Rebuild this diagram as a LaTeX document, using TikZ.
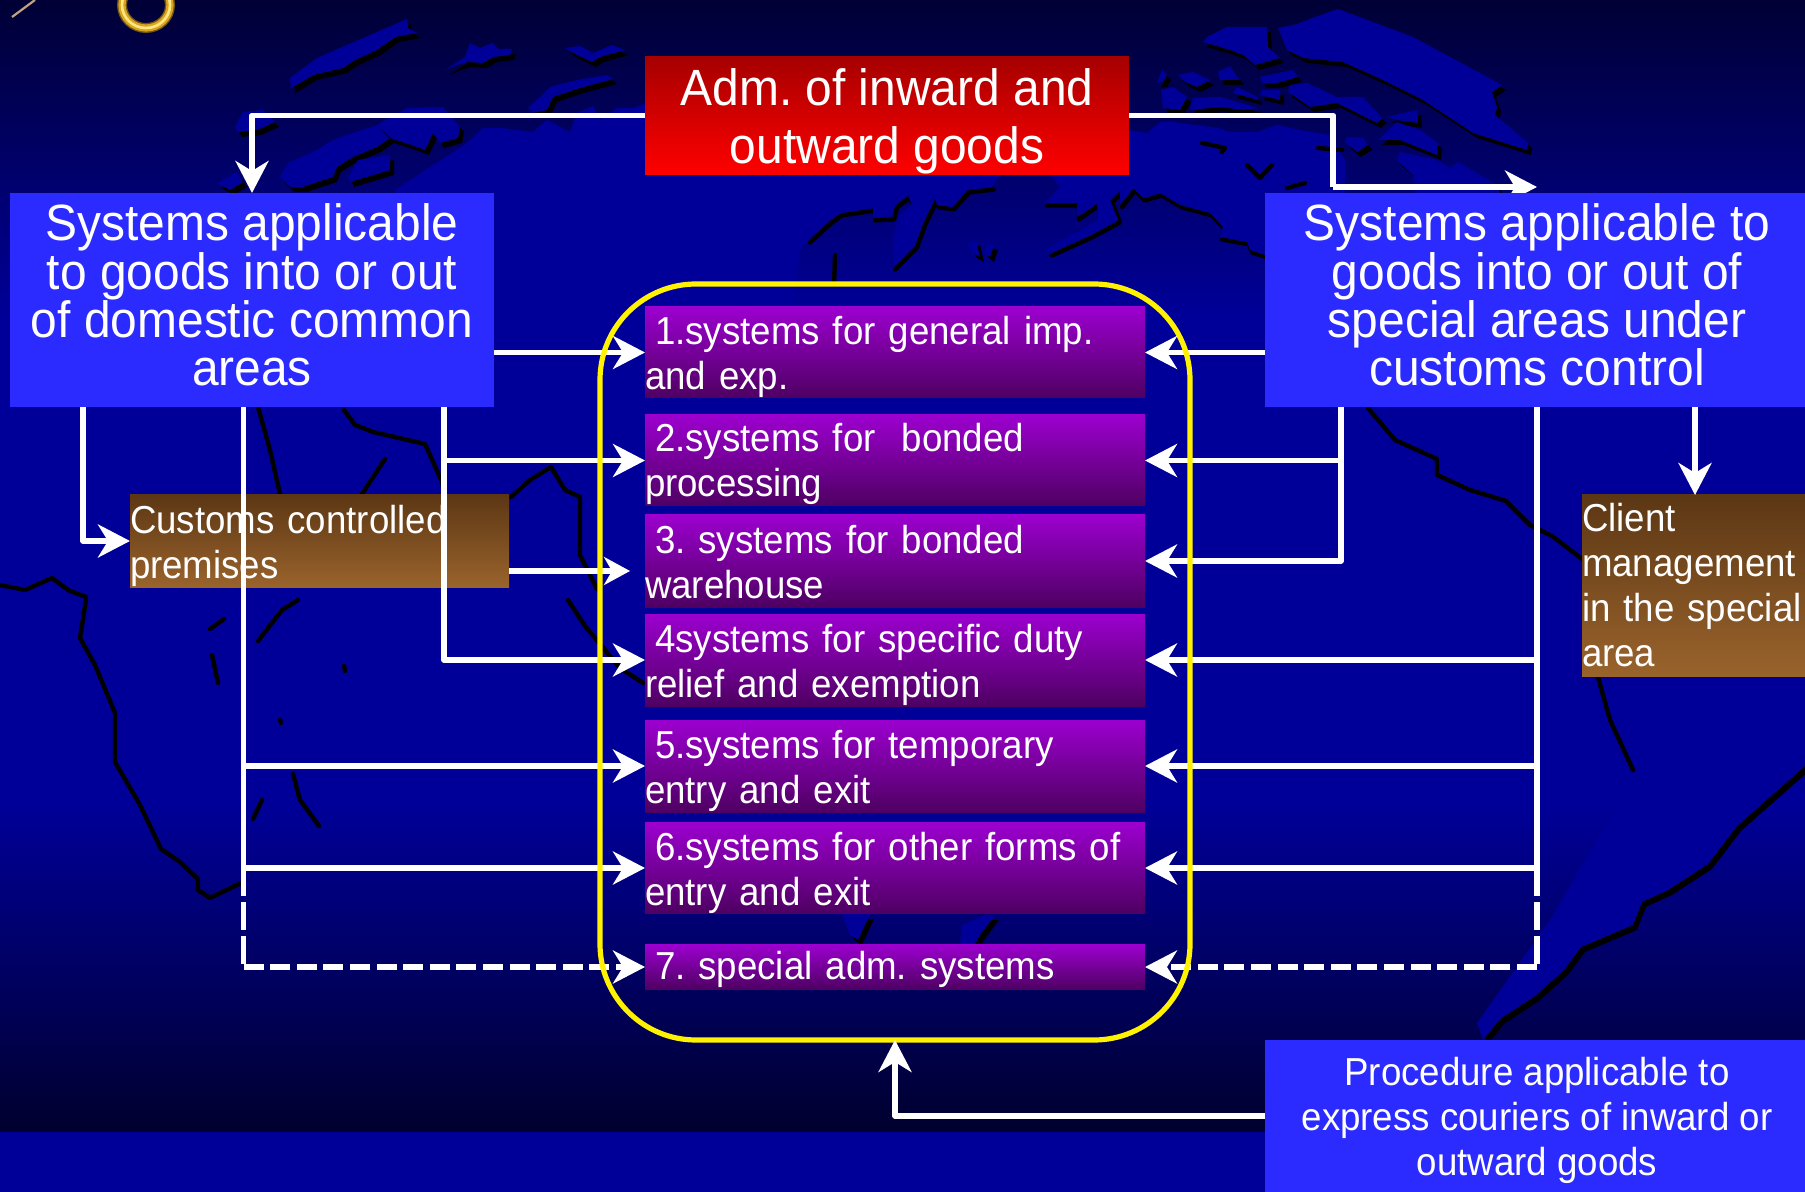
\documentclass[tikz,border=0pt]{standalone}
\usepackage{fontspec}
\setmainfont[FakeStretch=0.94]{Liberation Sans}
\usetikzlibrary{arrows.meta}
\definecolor{landblue}{HTML}{000099}
\definecolor{boxblue}{HTML}{2B2BFF}
\definecolor{violet1}{HTML}{9C00CF}
\definecolor{violet2}{HTML}{4E0062}
\definecolor{brown1}{HTML}{5C3714}
\definecolor{brown2}{HTML}{9A632C}
\definecolor{ringdark}{HTML}{6E5518}
\definecolor{ringgold}{HTML}{D9A520}
\definecolor{ringpale}{HTML}{FFE680}
\newcommand{\landmass}[1]{\fill[black,xshift=2pt,yshift=-2.5pt] #1 -- cycle; \fill[landblue] #1 -- cycle;}
\newcommand{\tstrut}[1]{\rule{0pt}{#1pt}}
\newcommand{\bstrut}[1]{\rule[-#1pt]{0pt}{#1pt}}
\tikzset{
  base/.style={inner sep=0pt,outer sep=0pt,text=white},
  bluebox/.style={base,fill=boxblue,align=center},
  bigtext/.style={font=\fontsize{25.5pt}{24.15pt}\selectfont\frenchspacing},
  midtext/.style={font=\fontsize{19.5pt}{22.5pt}\selectfont\frenchspacing},
  redbox/.style={base,top color=red!65!black,bottom color=red,align=center,font=\fontsize{25.5pt}{29.3pt}\selectfont\frenchspacing},
  sysbox/.style={base,top color=violet1,bottom color=violet2,minimum width=250pt,text width=250pt,align=left,midtext},
  brownbox/.style={base,top color=brown1,bottom color=brown2,align=left,midtext},
  conn/.style={draw=white,line width=2.9pt,line join=round},
  arr/.style={conn,-{Stealth[length=16pt,width=16.5pt,inset=5pt]}},
  smallarr/.style={conn,-{Stealth[length=13pt,width=14pt,inset=4pt]}},
  dashh/.style={conn,dash pattern=on 10pt off 3.3pt},
  dashv/.style={conn,dash pattern=on 14pt off 3pt},
  coast/.style={draw=black,line width=2.2pt,line join=round,line cap=round},
  shore/.style={draw=black,line width=2.2pt,line join=round,line cap=round,xshift=1pt,yshift=-1.2pt},
}
\begin{document}
\begin{tikzpicture}[x=0.5pt,y=-0.5pt]
\useasboundingbox (0,0) rectangle (1805,1192);
\begin{scope}
\clip (0,0) rectangle (1805,1192);
% background
\shade[top color=landblue!35!black,bottom color=landblue] (0,0) rectangle (1805,320);
\fill[landblue] (0,319) rectangle (1805,801);
\shade[top color=landblue,bottom color=landblue!30!black] (0,800) rectangle (1805,1133);
\fill[landblue] (0,1132) rectangle (1805,1192);
% ring and thin line in the corner
\draw[line width=5pt,color=ringdark] (146,5) ellipse [x radius=24,y radius=23];
\draw[line width=3.6pt,color=ringgold] (146,5) ellipse [x radius=24,y radius=23];
\draw[line width=1.3pt,color=ringpale] (146,5) ellipse [x radius=24,y radius=23];
\draw[line width=1.1pt,color=brown2!60!white] (12,17) -- (35,0);
% world map: north edge
\landmass{(290,78) -- (317,58) -- (407,19) -- (408,28) -- (417,33) -- (395,37) -- (377,50) -- (355,60) -- (343,68) -- (313,75) -- (300,83) -- (291,88)}
\landmass{(445,70) -- (465,57) -- (470,43) -- (480,48) -- (493,43) -- (498,49) -- (512,49) -- (510,55) -- (493,57) -- (483,63) -- (467,62) -- (457,65)}
\landmass{(565,48) -- (580,46) -- (593,53) -- (612,45) -- (625,50) -- (600,57) -- (592,62) -- (577,55)}
\landmass{(528,108) -- (540,97) -- (550,87) -- (577,80) -- (607,75) -- (613,79) -- (580,88) -- (553,97) -- (547,110) -- (533,113)}
\landmass{(235,127) -- (243,112) -- (263,110) -- (275,122) -- (257,130) -- (238,132)}
\landmass{(280,177) -- (288,163) -- (317,150) -- (333,140) -- (347,135) -- (377,125) -- (390,138) -- (377,147) -- (353,157) -- (337,167) -- (333,177) -- (303,187) -- (290,187)}
\landmass{(348,178) -- (358,160) -- (390,155) -- (390,170) -- (350,182)}
\landmass{(377,125) -- (407,108) -- (443,107) -- (460,127) -- (458,138) -- (440,143) -- (433,133) -- (425,150) -- (417,147) -- (390,138)}
\landmass{(217,183) -- (237,172) -- (243,182) -- (230,190)}
\landmass{(1278,28) -- (1297,24) -- (1315,17) -- (1338,9) -- (1413,37) -- (1502,85) -- (1492,92) -- (1497,107) -- (1495,115) -- (1528,143) -- (1527,150) -- (1473,133) -- (1423,100) -- (1383,80) -- (1343,62) -- (1303,58) -- (1287,50)}
\landmass{(1207,37) -- (1227,27) -- (1267,27) -- (1268,47) -- (1280,58) -- (1255,65) -- (1243,55) -- (1230,50) -- (1203,42)}
\landmass{(1260,77) -- (1293,70) -- (1298,77) -- (1277,83) -- (1262,83)}
\landmass{(1218,72) -- (1230,66) -- (1240,80) -- (1220,80)}
\landmass{(1178,75) -- (1193,72) -- (1210,80) -- (1197,87) -- (1185,82)}
\landmass{(1162,70) -- (1167,75) -- (1163,82) -- (1157,83)}
\landmass{(1161,90) -- (1173,87) -- (1187,97) -- (1180,110) -- (1163,108)}
\landmass{(1193,98) -- (1220,97) -- (1258,108) -- (1243,110) -- (1220,107) -- (1190,110)}
\landmass{(1237,87) -- (1258,97) -- (1258,100) -- (1233,93)}
\landmass{(1262,90) -- (1280,90) -- (1280,100) -- (1260,95)}
\landmass{(1290,85) -- (1307,83) -- (1337,97) -- (1363,97) -- (1382,118) -- (1377,123) -- (1337,103) -- (1310,107) -- (1288,92)}
\landmass{(1387,117) -- (1417,110) -- (1418,123) -- (1397,120)}
\landmass{(1378,140) -- (1397,122) -- (1420,130) -- (1438,143) -- (1437,155) -- (1400,140)}
\landmass{(1347,137) -- (1363,138) -- (1368,145) -- (1357,152) -- (1345,142)}
\landmass{(1400,152) -- (1437,160) -- (1450,168) -- (1458,162) -- (1497,185) -- (1500,193) -- (1415,193) -- (1413,175) -- (1397,160)}
\landmass{(968,243) -- (976,240) -- (980,257) -- (972,252)}
\landmass{(988,243) -- (994,245) -- (990,257) -- (984,252)}
% main northern coast
\draw[shore] (1265,255) -- (1250,250) -- (1247,242) -- (1220,237) -- (1223,227) -- (1210,213) -- (1180,205) -- (1160,193) -- (1143,198) -- (1133,188) -- (1120,205) -- (1120,190) -- (1110,200) -- (1118,220) -- (1090,235) -- (1050,253);
\draw[shore] (1098,220) -- (1097,203) -- (1077,217) -- (1077,203) -- (1045,203);
\draw[shore] (992,187) -- (967,190) -- (952,207) -- (937,205) -- (935,198) -- (923,223) -- (915,245) -- (893,267);
\draw[shore] (925,190) -- (913,208) -- (908,195) -- (895,205) -- (892,217) -- (873,218) -- (873,208) -- (840,213) -- (830,220) -- (808,240);
\fill[landblue] (467,143) -- (483,128) -- (502,128) -- (533,132) -- (547,120) -- (570,132) -- (577,113) -- (593,106) -- (600,120) -- (617,108) -- (633,108) -- (647,103) -- (660,120) -- (1129,130) -- (1147,133) -- (1160,122) -- (1173,122) -- (1218,128) -- (1230,132) -- (1257,132) -- (1277,125) -- (1300,130) -- (1330,135) -- (1345,160) -- (1345,193) -- (1265,193) -- (1265,255) -- (1250,250) -- (1247,242) -- (1220,237) -- (1223,227) -- (1210,213) -- (1180,205) -- (1160,193) -- (1143,198) -- (1133,188) -- (1120,205) -- (1120,190) -- (1110,200) -- (1118,220) -- (1090,235) -- (1050,253) -- (1045,250) -- (1090,225) -- (1098,220) -- (1097,203) -- (1077,217) -- (1077,203) -- (1045,203) -- (1060,187) -- (1050,174) -- (1000,174) -- (992,187) -- (967,190) -- (952,207) -- (937,205) -- (935,198) -- (923,223) -- (915,245) -- (893,267) -- (893,237) -- (900,215) -- (925,190) -- (913,208) -- (908,195) -- (895,205) -- (892,217) -- (873,218) -- (873,208) -- (840,213) -- (830,220) -- (808,240) -- (800,250) -- (790,320) -- (450,320) -- (395,190) -- cycle;
\draw[coast] (1202,143) -- (1225,148) -- (1222,152);
\draw[coast] (1247,165) -- (1260,178) -- (1272,165);
\draw[coast] (1287,188) -- (1305,183);
\draw[coast] (1318,148) -- (1342,150);
\draw[coast] (835,255) -- (834,285);
% coast lines lower on the map
\draw[coast] (1367,407) -- (1395,440) -- (1437,459) -- (1437,475) -- (1470,490) -- (1506,501) -- (1530,525) -- (1552,536) -- (1590,565);
\draw[coast] (1598,677) -- (1610,720) -- (1633,770);
\draw[coast] (344,410) -- (355,425) -- (373,432) -- (425,444) -- (442,482) -- (446,500);
\draw[coast] (385,459) -- (362,494);
\draw[coast] (258,407) -- (270,450) -- (280,494);
\draw[coast] (511,497) -- (530,480) -- (551,467) -- (565,490) -- (580,497) -- (580,555) -- (597,589);
\draw[coast] (568,600) -- (585,626) -- (620,668) -- (643,683);
\draw[coast] (0,585) -- (25,590) -- (52,578) -- (68,590) -- (86,597);
\draw[coast] (86,600) -- (80,638) -- (95,665) -- (115,713) -- (115,762) -- (140,805) -- (161,849) -- (180,862) -- (198,879) -- (198,890) -- (210,898) -- (241,883);
\draw[coast] (210,629) -- (224,619);
\draw[coast] (212,655) -- (218,683);
\draw[coast] (258,641) -- (282,610) -- (298,600);
\draw[coast] (344,666) -- (345,671);
\draw[coast] (280,720) -- (281,723);
\draw[coast] (293,774) -- (300,800) -- (319,826);
\draw[coast] (253,819) -- (262,800);
% small lands between the lower boxes
\landmass{(842,914) -- (870,914) -- (858,940) -- (850,935)}
\landmass{(960,944) -- (962,925) -- (985,915) -- (995,915) -- (980,935) -- (975,944)}
% southern land with its coast
\landmass{(1483,1040) -- (1477,1023) -- (1552,917) -- (1620,800) -- (1805,745) -- (1805,766) -- (1737,826) -- (1708,864) -- (1668,890) -- (1642,902) -- (1633,925) -- (1581,947) -- (1564,970) -- (1535,996) -- (1500,1019)}
\end{scope}
% anchors used by the connectors
\coordinate (rbend) at (1333,187);
\coordinate (rtip) at (1537,187);
\coordinate (la) at (83,407);
\coordinate (lc) at (243.5,407);
\coordinate (lbr) at (444,407);
\coordinate (ldash) at (243.5,868);
\coordinate (ldashend) at (243.5,967);
\coordinate (blstart) at (509,571);
\coordinate (bltip) at (630,571);
\coordinate (rb2) at (1341,407);
\coordinate (rc) at (1537,407);
\coordinate (rd) at (1695,407);
\coordinate (rdash) at (1537,868);
\coordinate (rdashend) at (1537,967);
% this arrow is half hidden by the box under it
\draw[arr] (rbend) -- (rtip);
% boxes
\node[redbox,minimum width=242pt,minimum height=58.5pt] (red) at (887,115.5) {\tstrut{24.4}Adm. of inward and\\outward goods};
\node[bluebox,bigtext,minimum width=242pt,minimum height=107pt] (lb) at (252,300) {Systems applicable\\to goods into or out\\of domestic common\\areas\bstrut{5.2}};
\node[bluebox,bigtext,minimum width=272pt,minimum height=107pt] (rb) at (1537,300) {Systems applicable to\\goods into or out of\\special areas under\\customs control\bstrut{5.2}};
\node[sysbox,minimum height=45.5pt] (p1) at (895,352.5) {\hspace*{5pt}\tstrut{18.6}1.systems for general imp.\\and exp.};
\node[sysbox,minimum height=45.5pt] (p2) at (895,460.5) {\hspace*{5pt}\tstrut{17.7}2.systems for\ \ bonded\\processing};
\node[sysbox,minimum height=46pt] (p3) at (895,561) {\hspace*{5pt}\tstrut{15.4}3. systems for bonded\\warehouse};
\node[sysbox,minimum height=46pt] (p4) at (895,660) {\hspace*{5pt}\tstrut{18.6}4systems for specific duty\\relief and exemption};
\node[sysbox,minimum height=46pt] (p5) at (895,766) {\hspace*{5pt}\tstrut{18.6}5.systems for temporary\\entry and exit};
\node[sysbox,minimum height=45.5pt] (p6) at (895,868) {\hspace*{5pt}\tstrut{18.6}6.systems for other forms of\\entry and exit};
\node[sysbox,minimum height=22.5pt] (p7) at (895,967) {\hspace*{5pt}\tstrut{16.5}7. special adm. systems};
\node[brownbox,minimum width=189.5pt,minimum height=46pt,text width=189.5pt] (bl) at (319.5,541) {\tstrut{18.8}Customs controlled\\premises};
\node[brownbox,minimum width=111.5pt,minimum height=90.5pt,text width=111.5pt] (br) at (1693.5,585.5) {Client\\management\\in the special\\area};
\node[bluebox,midtext,minimum width=272pt,minimum height=76pt] (bb) at (1537,1116) {\tstrut{18.8}Procedure applicable to\\express couriers of inward or\\outward goods};
% connectors
\draw[arr] (red.west) -| (lb.north);
\draw[conn] (red.east) -| (rbend);
\draw[arr] (lb.east |- p1.west) -- (p1.west);
\draw[arr] (rb.west |- p1.east) -- (p1.east);
\draw[arr] (la) |- (bl.west);
\draw[conn] (lc) -- (ldash);
\draw[arr] (lc |- p5.west) -- (p5.west);
\draw[arr] (ldash) -- (p6.west);
\draw[dashv] (ldash) -- (ldashend);
\draw[dashh,-{Stealth[length=16pt,width=16.5pt,inset=5pt]}] (ldashend) -- (p7.west);
\draw[arr] (lbr) |- (p4.west);
\draw[arr] (lbr |- p2.west) -- (p2.west);
\draw[smallarr] (blstart) -- (bltip);
\draw[arr] (rb2) |- (p3.east);
\draw[arr] (rb2 |- p2.east) -- (p2.east);
\draw[conn] (rc) -- (rdash);
\draw[arr] (rc |- p4.east) -- (p4.east);
\draw[arr] (rc |- p5.east) -- (p5.east);
\draw[arr] (rdash) -- (p6.east);
\draw[dashv] (rdash) -- (rdashend);
\draw[dashh,-{Stealth[length=16pt,width=16.5pt,inset=5pt]}] (rdashend) -- (p7.east);
\draw[arr] (rd) -- (br.north -| rd);
% yellow frame
\node[draw=yellow,line width=2.6pt,rounded corners=48pt,minimum width=295pt,minimum height=378pt,inner sep=0pt,outer sep=0pt] (yb) at (895,662) {};
\draw[arr] (bb.west) -| (yb.south);
\end{tikzpicture}
\end{document}
